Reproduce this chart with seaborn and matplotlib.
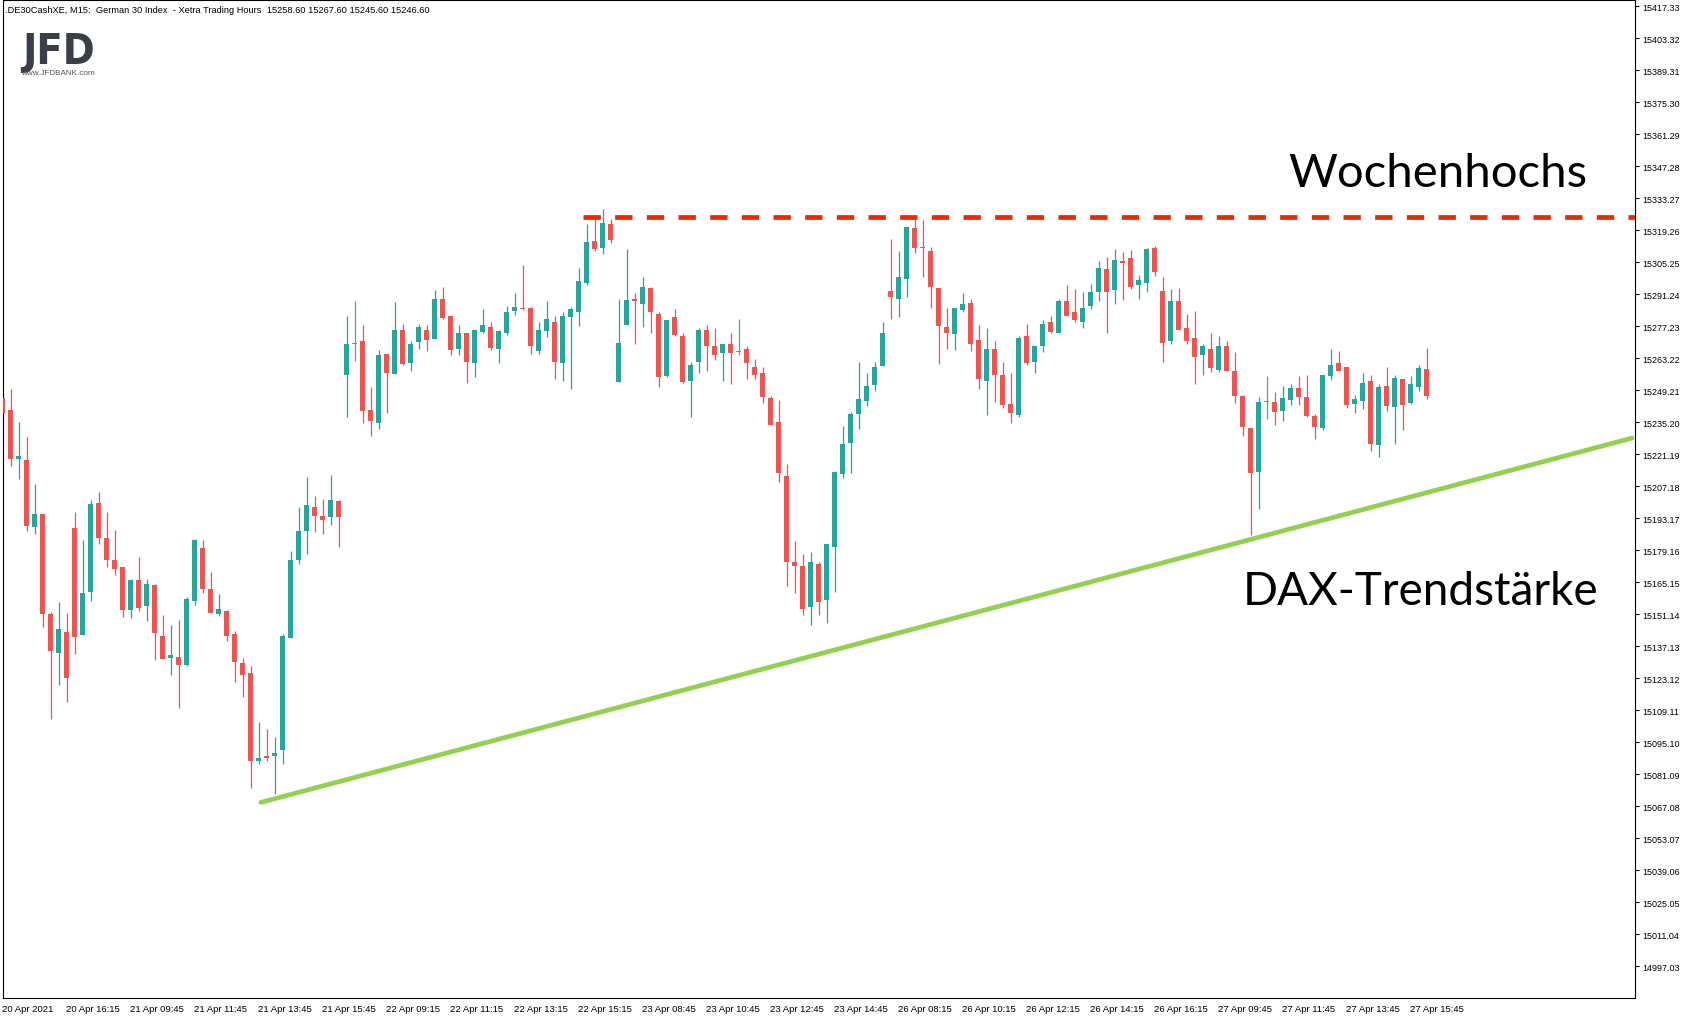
import numpy as np
import pandas as pd
import matplotlib
matplotlib.use('Agg')
import matplotlib.pyplot as plt
import seaborn as sns

opens = [15245.7, 15240.8, 15219.1, 15218.6, 15189.4, 15195.0, 15151.2, 15134.3, 15143.4, 15188.8,
         15142.2, 15161.0, 15199.8, 15184.5, 15174.8, 15171.8, 15153.1, 15166.1, 15154.9, 15163.9,
         15141.6, 15132.1, 15132.4, 15129.1, 15157.1, 15180.1, 15162.2, 15151.4, 15152.5, 15142.5,
         15129.8, 15125.4, 15087.1, 15089.2, 15088.9, 15091.6, 15140.9, 15175.0, 15187.8, 15198.1,
         15194.1, 15193.8, 15200.7, 15255.8, 15269.6, 15270.6, 15240.8, 15234.9, 15265.3, 15256.3,
         15275.4, 15261.2, 15270.3, 15275.8, 15271.6, 15289.4, 15281.6, 15267.3, 15274.1, 15261.2,
         15274.8, 15277.1, 15267.2, 15274.2, 15283.8, 15285.4, 15285.4, 15266.4, 15275.1, 15279.3,
         15261.1, 15281.2, 15283.4, 15296.1, 15314.7, 15311.4, 15322.2, 15252.8, 15277.7, 15289.4,
         15286.9, 15294.2, 15282.8, 15255.4, 15281.5, 15273.2, 15253.2, 15261.5, 15275.4, 15268.4,
         15265.5, 15269.7, 15266.1, 15267.5, 15259.6, 15256.6, 15245.7, 15235.2, 15211.6, 15174.1,
         15172.2, 15154.4, 15173.1, 15157.5, 15180.7, 15212.6, 15226.1, 15238.8, 15244.5, 15251.5,
         15259.8, 15292.9, 15289.1, 15297.8, 15320.4, 15312.0, 15310.4, 15294.2, 15277.1, 15273.8,
         15284.3, 15287.6, 15271.4, 15253.1, 15267.5, 15255.7, 15243.0, 15238.2, 15273.2, 15261.8,
         15268.8, 15278.9, 15274.1, 15288.5, 15283.3, 15279.3, 15286.3, 15292.4, 15302.5, 15293.3,
         15306.0, 15307.3, 15295.5, 15296.4, 15311.7, 15292.9, 15270.6, 15288.5, 15276.7, 15271.9,
         15264.5, 15267.5, 15258.3, 15268.4, 15257.5, 15246.5, 15232.5, 15213.5, 15244.1, 15243.9,
         15240.1, 15244.9, 15250.0, 15246.1, 15237.8, 15232.7, 15255.4, 15261.0, 15259.2, 15243.2,
         15244.5, 15253.1, 15225.3, 15250.9, 15241.9, 15254.0, 15243.6, 15250.6, 15258.6]
highs = [15248.6, 15249.6, 15235.2, 15228.6, 15208.1, 15195.0, 15152.1, 15156.5, 15151.7, 15195.8,
         15183.6, 15201.1, 15204.6, 15195.8, 15188.0, 15171.8, 15166.5, 15176.2, 15166.5, 15164.3,
         15150.8, 15146.4, 15148.6, 15158.7, 15184.0, 15183.6, 15169.6, 15160.0, 15153.0, 15143.8,
         15132.1, 15128.5, 15103.9, 15101.0, 15097.4, 15142.6, 15178.8, 15198.1, 15211.1, 15202.8,
         15201.5, 15212.0, 15201.1, 15281.6, 15288.5, 15277.6, 15250.5, 15266.8, 15265.3, 15287.7,
         15278.4, 15270.6, 15278.4, 15277.6, 15293.2, 15294.5, 15282.0, 15278.0, 15274.5, 15275.4,
         15284.7, 15279.3, 15275.4, 15286.3, 15291.6, 15304.2, 15285.9, 15279.3, 15288.5, 15281.9,
         15283.3, 15285.9, 15302.9, 15322.2, 15324.4, 15328.7, 15324.4, 15289.4, 15311.2, 15291.6,
         15298.6, 15294.6, 15283.7, 15280.2, 15284.6, 15274.1, 15261.8, 15276.3, 15278.0, 15276.3,
         15269.3, 15274.5, 15280.6, 15268.4, 15262.7, 15259.6, 15246.5, 15244.9, 15216.8, 15183.1,
         15177.5, 15178.3, 15174.0, 15181.8, 15213.7, 15233.4, 15239.5, 15261.4, 15257.0, 15261.4,
         15279.3, 15315.6, 15310.4, 15320.9, 15324.8, 15323.9, 15312.1, 15294.2, 15285.4, 15285.4,
         15291.6, 15289.4, 15277.6, 15276.7, 15270.6, 15261.4, 15256.6, 15272.8, 15278.4, 15268.4,
         15280.2, 15281.9, 15289.4, 15295.5, 15293.7, 15292.4, 15295.9, 15306.0, 15307.7, 15311.2,
         15309.9, 15310.8, 15299.9, 15311.7, 15312.5, 15299.0, 15293.7, 15294.2, 15282.4, 15284.1,
         15269.3, 15274.1, 15272.8, 15271.0, 15265.8, 15247.0, 15232.5, 15246.1, 15255.3, 15248.3,
         15250.9, 15251.8, 15255.3, 15256.1, 15238.7, 15256.1, 15267.1, 15266.2, 15259.2, 15247.0,
         15257.0, 15256.1, 15251.8, 15259.2, 15255.7, 15254.0, 15255.3, 15260.1, 15267.6]
lows = [15238.5, 15216.1, 15210.4, 15187.7, 15186.3, 15145.7, 15105.5, 15120.3, 15112.9, 15133.9,
        15142.2, 15157.1, 15182.0, 15171.9, 15168.4, 15150.1, 15149.6, 15152.7, 15148.3, 15131.3,
        15131.7, 15124.7, 15110.3, 15128.6, 15155.3, 15160.6, 15151.8, 15150.5, 15139.6, 15121.7,
        15115.1, 15075.0, 15085.4, 15087.1, 15072.5, 15085.8, 15140.9, 15173.3, 15177.5, 15187.3,
        15186.5, 15190.2, 15180.7, 15237.6, 15261.9, 15234.9, 15229.2, 15232.2, 15239.3, 15256.3,
        15260.3, 15257.6, 15267.3, 15266.4, 15271.6, 15280.4, 15264.5, 15264.5, 15252.3, 15255.0,
        15274.3, 15266.8, 15261.1, 15273.3, 15282.1, 15284.3, 15265.0, 15265.0, 15272.5, 15254.1,
        15253.2, 15249.7, 15277.3, 15295.2, 15310.1, 15308.8, 15313.6, 15252.8, 15277.7, 15269.4,
        15276.8, 15274.2, 15250.6, 15255.0, 15272.9, 15252.4, 15237.5, 15256.7, 15257.6, 15262.4,
        15253.2, 15251.9, 15264.6, 15254.1, 15254.1, 15243.6, 15234.0, 15209.1, 15163.6, 15160.6,
        15150.9, 15146.6, 15150.9, 15147.4, 15161.0, 15210.8, 15213.0, 15232.3, 15242.3, 15248.9,
        15259.8, 15280.3, 15281.2, 15290.0, 15309.2, 15298.7, 15285.2, 15260.7, 15267.2, 15266.8,
        15283.4, 15266.2, 15249.6, 15238.2, 15244.3, 15241.3, 15234.7, 15237.5, 15260.5, 15256.6,
        15265.8, 15274.1, 15274.1, 15281.9, 15279.3, 15276.3, 15285.0, 15288.1, 15274.1, 15286.8,
        15288.9, 15293.7, 15289.4, 15292.4, 15299.4, 15261.8, 15269.7, 15275.8, 15269.3, 15251.8,
        15255.7, 15257.2, 15257.2, 15257.5, 15243.6, 15229.2, 15185.9, 15197.3, 15236.6, 15234.0,
        15235.7, 15242.7, 15242.7, 15237.5, 15227.9, 15231.8, 15253.7, 15257.6, 15241.4, 15239.1,
        15241.0, 15222.6, 15220.0, 15240.1, 15225.7, 15231.8, 15243.2, 15248.9, 15245.6]
closes = [15239.2, 15219.1, 15220.3, 15189.8, 15195.0, 15151.4, 15135.2, 15144.7, 15123.4, 15141.3,
          15160.4, 15199.3, 15184.6, 15175.0, 15171.1, 15153.1, 15166.1, 15154.0, 15164.3, 15143.1,
          15131.7, 15133.3, 15129.1, 15157.8, 15183.6, 15162.3, 15151.8, 15153.4, 15141.8, 15130.4,
          15124.7, 15086.7, 15088.3, 15088.3, 15090.5, 15141.6, 15174.9, 15187.6, 15198.8, 15194.3,
          15192.4, 15201.1, 15193.8, 15269.3, 15269.6, 15240.2, 15235.7, 15264.8, 15256.7, 15275.8,
          15260.8, 15269.3, 15277.1, 15271.2, 15289.4, 15280.9, 15266.8, 15274.5, 15261.5, 15275.4,
          15277.8, 15267.7, 15275.0, 15283.3, 15285.9, 15284.7, 15268.5, 15275.4, 15280.6, 15261.5,
          15281.9, 15284.6, 15297.2, 15314.3, 15310.9, 15322.6, 15314.9, 15270.1, 15288.9, 15288.2,
          15294.6, 15283.4, 15255.0, 15280.2, 15273.3, 15252.8, 15260.1, 15275.8, 15268.5, 15264.6,
          15269.3, 15265.5, 15266.1, 15261.1, 15255.9, 15246.2, 15234.0, 15213.0, 15174.1, 15172.4,
          15153.6, 15174.0, 15156.6, 15181.8, 15213.3, 15225.5, 15238.7, 15245.2, 15251.3, 15259.2,
          15274.1, 15290.0, 15298.6, 15320.9, 15311.4, 15311.4, 15294.3, 15277.3, 15274.2, 15285.4,
          15287.2, 15269.3, 15254.0, 15267.1, 15255.7, 15242.6, 15239.1, 15271.9, 15261.0, 15268.4,
          15278.4, 15274.9, 15288.1, 15281.9, 15279.8, 15285.4, 15292.4, 15302.9, 15292.4, 15306.4,
          15305.1, 15294.6, 15297.7, 15311.2, 15301.2, 15270.1, 15288.5, 15275.8, 15270.6, 15264.0,
          15268.4, 15258.8, 15268.4, 15257.5, 15246.5, 15233.1, 15213.0, 15244.3, 15244.1, 15239.7,
          15245.7, 15250.0, 15246.2, 15237.9, 15233.1, 15256.1, 15260.5, 15257.6, 15242.7, 15245.2,
          15252.2, 15225.7, 15250.5, 15242.3, 15254.4, 15242.7, 15251.8, 15258.8, 15246.6]
doji_bars = [44, 92, 158]

x_labels = ['20 Apr 2021', '20 Apr 16:15', '21 Apr 09:45', '21 Apr 11:45', '21 Apr 13:45',
            '21 Apr 15:45', '22 Apr 09:15', '22 Apr 11:15', '22 Apr 13:15', '22 Apr 15:15',
            '23 Apr 08:45', '23 Apr 10:45', '23 Apr 12:45', '23 Apr 14:45', '26 Apr 08:15',
            '26 Apr 10:15', '26 Apr 12:15', '26 Apr 14:15', '26 Apr 16:15', '27 Apr 09:45',
            '27 Apr 11:45', '27 Apr 13:45', '27 Apr 15:45']
y_ticks = [15417.33, 15403.32, 15389.31, 15375.30, 15361.29, 15347.28, 15333.27, 15319.26,
           15305.25, 15291.24, 15277.23, 15263.22, 15249.21, 15235.20, 15221.19, 15207.18,
           15193.17, 15179.16, 15165.15, 15151.14, 15137.13, 15123.12, 15109.11, 15095.10,
           15081.09, 15067.08, 15053.07, 15039.06, 15025.05, 15011.04, 14997.03]

# Linien: Wochenhochs (rot gestrichelt) und Trendlinie (gruen)
hoch_x = [72.5, 204.1]
hoch_y = [15325.1, 15325.1]
trend_x = [32.3, 203.7]
trend_y = [15068.8, 15228.3]

title = ('.DE30CashXE, M15:  German 30 Index  - Xetra Trading Hours  '
         '15258.60 15267.60 15245.60 15246.60')

df = pd.DataFrame({'open': opens, 'high': highs, 'low': lows, 'close': closes})
df['bar'] = np.arange(len(df))
df['farbe'] = np.where(df['close'] >= df['open'], '#26A69A', '#EF5350')
df.loc[df['bar'].isin(doji_bars), 'farbe'] = '#3CB371'
df['unten'] = df[['open', 'close']].min(axis=1)
df['hoehe'] = (df['close'] - df['open']).abs().clip(lower=0.45)

sns.set_theme(style='white')
plt.rcParams['font.family'] = ['Liberation Sans', 'DejaVu Sans']
plt.rcParams['lines.scale_dashes'] = False

W, H = 1693, 1020
fig = plt.figure(figsize=(W / 100, H / 100), dpi=100)
fig.patch.set_facecolor('white')
ax = fig.add_axes([2.5 / W, 21 / H, (1635 - 2.5) / W, (H - 21 - 1.3) / H])
ax.set_facecolor('white')

# Kerzen
ax.vlines(df['bar'], df['low'], df['high'], colors=df['farbe'], linewidth=0.9, zorder=2)
ax.bar(df['bar'], df['hoehe'], bottom=df['unten'], width=0.63, color=df['farbe'],
       linewidth=0, zorder=3)

# Linien
sns.lineplot(x=trend_x, y=trend_y, ax=ax, color='#92D050', linewidth=3.4, zorder=4)
sns.lineplot(x=hoch_x, y=hoch_y, ax=ax, color='#E52B05', linewidth=3.4, zorder=4)
ax.lines[-1].set_dashes([12.5, 10.3])
ax.lines[-1].set_dash_capstyle('butt')

ax.set_xlim(0, (1635 - 2.5) / 8)
ax.set_ylim(14983.15, 15419.96)

ax.yaxis.tick_right()
ax.set_yticks(y_ticks)
ax.set_yticklabels([f'{v:.2f}' for v in y_ticks])
ax.set_xticks(np.arange(len(x_labels)) * 8)
ax.set_xticklabels(x_labels, ha='left')
ax.tick_params(axis='both', direction='out', length=3, width=0.8, colors='black',
               labelsize=6.5, pad=1.5)
ax.tick_params(axis='x', labelsize=6.8)
ax.tick_params(axis='y', pad=2)
ax.set_xlabel('')
ax.set_ylabel('')
for s in ax.spines.values():
    s.set_visible(True)
    s.set_color('black')
    s.set_linewidth(0.8)

# Texte
fig.text(5 / W, 1 - 13 / H, title, fontsize=6.7, va='baseline', color='black')
fig.text(22 / W, 1 - 64 / H, 'JFD', fontsize=31, fontweight='bold', color='#3A3E46',
         va='baseline', family='DejaVu Sans', fontstretch='condensed')
fig.text(21 / W, 1 - 75 / H, 'www.JFDBANK.com', fontsize=5.9, color='#555555',
         va='baseline')
fig.text(1587 / W, 1 - 187 / H, 'Wochenhochs', fontsize=34, family='Lato',
         ha='right', va='baseline', color='black')
fig.text(1598 / W, 1 - 605 / H, 'DAX-Trendstärke', fontsize=33, family='Lato',
         ha='right', va='baseline', color='black')

fig.savefig('out.png', dpi=100)
